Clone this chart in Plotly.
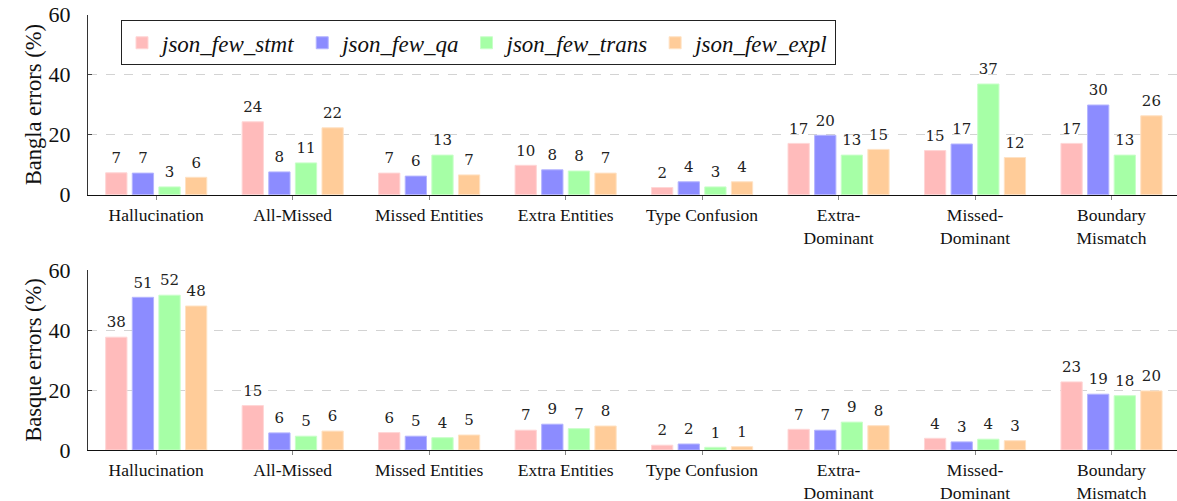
import plotly.graph_objects as go
from plotly.subplots import make_subplots

categories = ["Hallucination", "All-Missed", "Missed Entities", "Extra Entities",
              "Type Confusion", "Extra-<br>Dominant", "Missed-<br>Dominant", "Boundary<br>Mismatch"]
series_names = ["json_few_stmt", "json_few_qa", "json_few_trans", "json_few_expl"]
colors = ["#FFBBBB", "#8C8CFF", "#A6FFA6", "#FFCC99"]
edge_colors = ["#FFD6D6", "#B5B5FF", "#C8FFC8", "#FFE2C4"]

bangla_stmt = [7.3, 24.3, 7.2, 9.8, 2.4, 17.1, 14.7, 17.1]
bangla_qa = [7.2, 7.6, 6.2, 8.3, 4.3, 19.8, 16.9, 29.9]
bangla_trans = [2.6, 10.6, 13.2, 7.9, 2.6, 13.2, 36.9, 13.2]
bangla_expl = [5.8, 22.3, 6.6, 7.2, 4.3, 15.1, 12.4, 26.3]

basque_stmt = [37.6, 14.8, 5.8, 6.6, 1.6, 6.9, 3.9, 22.7]
basque_qa = [50.9, 5.7, 4.6, 8.6, 2.0, 6.6, 2.7, 18.6]
basque_trans = [51.6, 4.6, 4.1, 7.1, 0.9, 9.3, 3.6, 18.1]
basque_expl = [48.0, 6.3, 5.0, 8.0, 1.1, 8.1, 3.1, 19.7]

y_ticks = [0, 20, 40, 60]
y_titles = ["Bangla errors (%)", "Basque errors (%)"]

W, H = 1177, 501
fig = make_subplots(rows=2, cols=1, vertical_spacing=0.1)

serif = "Liberation Serif"
num_font = "DejaVu Serif"

panels = [[bangla_stmt, bangla_qa, bangla_trans, bangla_expl],
          [basque_stmt, basque_qa, basque_trans, basque_expl]]

for r, panel in enumerate(panels, start=1):
    for i, vals in enumerate(panel):
        fig.add_trace(go.Bar(
            x=categories, y=vals, name="<i>" + series_names[i] + "</i>",
            marker=dict(color=colors[i], line=dict(color=edge_colors[i], width=1)),
            offsetgroup=str(i), alignmentgroup="a",
            showlegend=(r == 1), hoverinfo="skip",
        ), row=r, col=1)
    for i, vals in enumerate(panel):
        fig.add_trace(go.Scatter(
            x=categories, y=vals, mode="markers+text",
            marker=dict(size=8, opacity=0, color=colors[i]),
            text=[f"{v:.0f}" for v in vals], textposition="top center",
            textfont=dict(family=num_font, size=15, color="#222"),
            offsetgroup=str(i), alignmentgroup="a",
            cliponaxis=False, showlegend=False, hoverinfo="skip",
        ), row=r, col=1)

fig.update_layout(
    width=W, height=H, barmode="group", bargap=0.22, bargroupgap=0.2,
    scattermode="group", scattergap=0.22,
    plot_bgcolor="white", paper_bgcolor="white",
    margin=dict(l=88, r=0, t=0, b=0, autoexpand=False),
    font=dict(family=serif, color="#111"),
    legend=dict(orientation="h", x=0.0303, y=1 - 20.3 / H, xanchor="left", yanchor="top",
                bordercolor="#222", borderwidth=1, bgcolor="white",
                font=dict(family=serif, size=23, color="#111"),
                itemwidth=30, tracegroupgap=0),
)

domains = [(1 - 194.7 / H, 1 - 14.7 / H), (1 - 450 / H, 1 - 270 / H)]
for r in (1, 2):
    fig.update_yaxes(row=r, col=1, domain=list(domains[r - 1]), range=[0, 60],
                     tickvals=y_ticks, ticks="inside", ticklen=4, tickcolor="#444",
                     showline=True, linecolor="#333", linewidth=1,
                     showgrid=True, gridcolor="#D3D3D3", griddash="dash", gridwidth=1,
                     zeroline=False, tickfont=dict(family=serif, size=22, color="#111"),
                     ticklabelstandoff=12, automargin=False,
                     title=dict(text=y_titles[r - 1], font=dict(family=serif, size=22.5, color="#111"),
                                standoff=0))
    fig.update_xaxes(row=r, col=1, range=[-0.5, 7.48], showline=True, linecolor="#111",
                     linewidth=1.2, ticks="outside", ticklen=4, tickcolor="#888",
                     tickfont=dict(family=serif, size=17.5, color="#111"),
                     ticklabelstandoff=0, automargin=False,
                     showgrid=False, zeroline=False)

fig.write_html("out.html", config={"displayModeBar": False},
               post_script="document.body.style.margin='0px';document.body.style.overflow='hidden';")
